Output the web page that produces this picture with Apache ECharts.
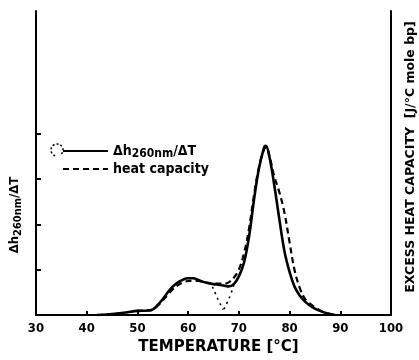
<!DOCTYPE html>
<html>
<head>
<meta charset="utf-8">
<script src="https://cdn.jsdelivr.net/npm/echarts@6/dist/echarts.min.js"></script>
<style>html,body{margin:0;padding:0;background:#fff}#c{width:419px;height:360px}</style>
</head>
<body>
<div id="c"></div>
<script>
// Temperature (°C) and values (arbitrary units, 1 unit = one left-axis tick)
var absT = [42,44,46,48,50,52,53,54,55,56,57,58,59,60,61,62,63,64,65,66,67,68,69,70,71,72,73,74,75,75.3,76,77,78,79,80,81,82,83,84,85,86,87,88,89];
var absV = [0,0.01,0.03,0.06,0.09,0.1,0.12,0.22,0.35,0.5,0.63,0.72,0.78,0.81,0.81,0.77,0.73,0.7,0.68,0.67,0.65,0.63,0.68,0.85,1.15,1.72,2.55,3.25,3.7,3.73,3.5,2.85,2.1,1.4,0.95,0.62,0.43,0.3,0.21,0.14,0.09,0.05,0.02,0];
var cpT = [42,44,46,48,50,52,53,54,55,56,57,58,59,60,61,62,63,64,65,66,67,68,69,70,71,72,73,74,75,75.4,76,77,78,79,80,81,82,83,84,85,86,87,88,89];
var cpV = [0,0.01,0.03,0.06,0.09,0.1,0.12,0.2,0.32,0.45,0.57,0.66,0.72,0.75,0.76,0.75,0.73,0.71,0.7,0.69,0.69,0.72,0.82,1.0,1.35,1.9,2.65,3.28,3.66,3.7,3.52,3.05,2.7,2.25,1.6,0.98,0.6,0.36,0.25,0.17,0.1,0.05,0.02,0];
var dotAT = [64.8,65.5,66.2,66.9];
var dotAV = [0.62,0.44,0.27,0.12];
var dotBT = [69,68.4,67.7,67.0];
var dotBV = [0.66,0.46,0.28,0.12];
var xTicks = [30,40,50,60,70,80,90,100];
var yTicks = [1,2,3,4];

function pairs(t, v){ return t.map(function(x,i){ return [x, v[i]]; }); }

var F = '"DejaVu Sans Condensed","DejaVu Sans",sans-serif';
var FB = '"DejaVu Sans",sans-serif';
var chart = echarts.init(document.getElementById('c'), null, {renderer:'canvas'});
chart.setOption({
  backgroundColor:'#fff',
  animation:false,
  grid:{left:36,right:28,top:11,bottom:41},
  xAxis:{
    type:'value', min:30, max:100, interval:10,
    name:'TEMPERATURE [°C]', nameLocation:'middle', nameGap:25,
    nameTextStyle:{fontFamily:FB, fontWeight:'bold', fontSize:15, color:'#000', padding:[0,0,0,10]},
    axisLine:{lineStyle:{color:'#000', width:2}},
    axisTick:{inside:true, length:4, lineStyle:{color:'#000', width:2}, customValues:[40,50,60,70,80,90]},
    axisLabel:{color:'#000', fontFamily:F, fontWeight:'bold', fontSize:13, margin:7, customValues:xTicks},
    splitLine:{show:false}
  },
  yAxis:[{
    type:'value', min:0, max:6.7, position:'left',
    axisLine:{show:true, lineStyle:{color:'#000', width:2}},
    axisTick:{show:true, inside:true, length:5, lineStyle:{color:'#000', width:2}, customValues:yTicks},
    axisLabel:{show:false},
    splitLine:{show:false}
  },{
    type:'value', min:0, max:6.7, position:'right',
    axisLine:{show:true, lineStyle:{color:'#000', width:2}},
    axisTick:{show:false}, axisLabel:{show:false}, splitLine:{show:false}
  }],
  legend:{
    orient:'vertical', left:57, top:137, itemWidth:45, itemHeight:12, itemGap:2,
    itemStyle:{opacity:0},
    data:['Δh260nm/ΔT','heat capacity'],
    formatter:function(n){ return n==='heat capacity' ? '{a|heat capacity}' : '{a|Δh}{s|260nm}{a|/ΔT}'; },
    textStyle:{color:'#000', fontFamily:F, fontWeight:'bold', fontSize:14,
      rich:{a:{fontFamily:F, fontWeight:'bold', fontSize:14, color:'#000', lineHeight:15},
            s:{fontFamily:F, fontWeight:'bold', fontSize:12, color:'#000', lineHeight:15, padding:[6,0,0,0]}}}
  },
  graphic:[
    {type:'arc', shape:{cx:57, cy:150, r:6, startAngle:Math.PI*0.6, endAngle:Math.PI*2.3}, style:{stroke:'#000', fill:'none', lineWidth:1.5, lineDash:[2,2]}},
    {type:'text', x:15, y:215, rotation:Math.PI/2,
      style:{text:'{a|Δh}{s|260nm}{a|/ΔT}', align:'center', verticalAlign:'middle',
        rich:{a:{fontFamily:F, fontWeight:'bold', fontSize:13, fill:'#000', lineHeight:16},
              s:{fontFamily:F, fontWeight:'bold', fontSize:11, fill:'#000', lineHeight:16, padding:[6,0,0,0]}}}},
    {type:'text', x:411, y:157, rotation:Math.PI/2,
      style:{text:'EXCESS HEAT CAPACITY  [J/°C mole bp]', align:'center', verticalAlign:'middle',
        fontFamily:FB, fontWeight:'bold', fontSize:12.5, fill:'#000'}}
  ],
  series:[
    {name:'Δh260nm/ΔT', type:'line', smooth:0.4, symbol:'none', data:pairs(absT, absV),
      lineStyle:{color:'#000', width:2.6}, itemStyle:{color:'#000'}},
    {name:'heat capacity', type:'line', smooth:0.4, symbol:'none', data:pairs(cpT, cpV),
      lineStyle:{color:'#000', width:2.2, type:[6,4]}, itemStyle:{color:'#000'}},
    {name:'dotA', type:'line', smooth:true, symbol:'none', data:pairs(dotAT, dotAV),
      lineStyle:{color:'#000', width:1.6, type:[2,4]}},
    {name:'dotB', type:'line', smooth:true, symbol:'none', data:pairs(dotBT, dotBV),
      lineStyle:{color:'#000', width:1.6, type:[2,4]}}
  ]
});
</script>
</body>
</html>
